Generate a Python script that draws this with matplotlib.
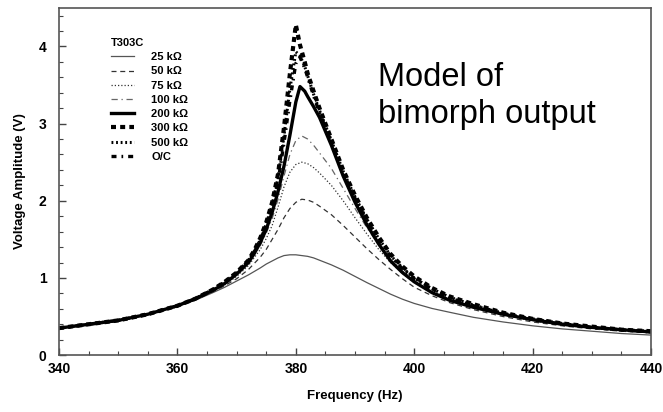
"""Model of bimorph output: voltage amplitude vs frequency for several loads."""

import matplotlib
matplotlib.use("Agg")
import matplotlib.pyplot as plt
from matplotlib.ticker import MultipleLocator

plt.rcParams['font.family'] = ['Liberation Sans', 'DejaVu Sans']

# frequencies (Hz) shared by the low-load traces
freq = [340, 345, 350, 355, 360, 363, 366, 368, 370, 372, 374, 375, 376, 377,
        378, 379, 380, 381, 382, 383, 384, 386, 388, 390, 392, 394, 396, 398,
        400, 403, 406, 410, 415, 420, 425, 430, 435, 440]

v_25k = [0.35, 0.40, 0.45, 0.53, 0.64, 0.71, 0.81, 0.88, 0.96, 1.04, 1.13, 1.18,
         1.22, 1.26, 1.29, 1.30, 1.30, 1.29, 1.28, 1.26, 1.23, 1.17, 1.10, 1.02,
         0.94, 0.865, 0.79, 0.725, 0.67, 0.605, 0.555, 0.49, 0.43, 0.38, 0.34,
         0.31, 0.28, 0.26]
v_50k = [0.35, 0.40, 0.45, 0.53, 0.64, 0.72, 0.82, 0.90, 0.99, 1.11, 1.27, 1.37,
         1.50, 1.63, 1.78, 1.90, 1.98, 2.02, 2.01, 1.98, 1.93, 1.82, 1.68, 1.53,
         1.38, 1.24, 1.11, 0.99, 0.88, 0.77, 0.68, 0.59, 0.50, 0.43, 0.38, 0.34,
         0.31, 0.29]
v_75k = [0.35, 0.40, 0.45, 0.53, 0.64, 0.72, 0.83, 0.91, 1.02, 1.16, 1.37, 1.51,
         1.68, 1.92, 2.18, 2.37, 2.47, 2.50, 2.48, 2.43, 2.36, 2.20, 2.00, 1.78,
         1.57, 1.37, 1.20, 1.06, 0.94, 0.81, 0.71, 0.615, 0.52, 0.45, 0.39, 0.35,
         0.32, 0.29]
v_100k = [0.35, 0.40, 0.45, 0.53, 0.64, 0.72, 0.84, 0.93, 1.04, 1.19, 1.42, 1.58,
          1.77, 2.02, 2.32, 2.60, 2.78, 2.84, 2.80, 2.72, 2.62, 2.42, 2.16, 1.90,
          1.65, 1.43, 1.24, 1.09, 0.97, 0.83, 0.72, 0.63, 0.53, 0.45, 0.40, 0.35,
          0.32, 0.30]

# heavier loads, sampled a little closer round the peak
freq_hi = [340, 345, 350, 355, 360, 363, 366, 368, 370, 372, 373, 374, 375, 376,
           377, 378, 379, 380, 380.7, 381.5, 382, 383, 384, 386, 388, 390, 392,
           394, 396, 398, 400, 403, 406, 410, 415, 420, 425, 430, 435, 440]

v_200k = [0.35, 0.40, 0.45, 0.53, 0.64, 0.73, 0.84, 0.93, 1.05, 1.20, 1.32, 1.46,
          1.63, 1.85, 2.12, 2.45, 2.85, 3.28, 3.48, 3.42, 3.35, 3.22, 3.08, 2.72,
          2.32, 1.98, 1.69, 1.44, 1.22, 1.07, 0.95, 0.81, 0.71, 0.62, 0.53, 0.46,
          0.40, 0.36, 0.33, 0.30]
v_300k = [0.35, 0.40, 0.45, 0.53, 0.64, 0.73, 0.85, 0.95, 1.07, 1.23, 1.36, 1.52,
          1.72, 1.98, 2.35, 2.95, 3.65, 4.28, 4.02, 3.80, 3.65, 3.42, 3.20, 2.80,
          2.40, 2.07, 1.78, 1.53, 1.31, 1.15, 1.02, 0.87, 0.76, 0.66, 0.55, 0.47,
          0.41, 0.37, 0.33, 0.31]
v_500k = [0.35, 0.40, 0.45, 0.53, 0.64, 0.73, 0.85, 0.95, 1.07, 1.23, 1.35, 1.50,
          1.70, 1.95, 2.30, 2.85, 3.45, 3.93, 3.88, 3.74, 3.62, 3.38, 3.17, 2.78,
          2.38, 2.05, 1.76, 1.51, 1.29, 1.13, 1.00, 0.86, 0.75, 0.65, 0.54, 0.47,
          0.41, 0.36, 0.33, 0.31]
v_oc = [0.35, 0.40, 0.45, 0.53, 0.64, 0.73, 0.85, 0.94, 1.06, 1.22, 1.34, 1.49,
        1.68, 1.92, 2.25, 2.75, 3.30, 3.78, 3.86, 3.72, 3.60, 3.36, 3.14, 2.76,
        2.36, 2.03, 1.74, 1.49, 1.28, 1.12, 0.99, 0.85, 0.74, 0.64, 0.54, 0.46,
        0.40, 0.36, 0.33, 0.30]

labels = ['25 k\u03a9', '50 k\u03a9', '75 k\u03a9', '100 k\u03a9',
          '200 k\u03a9', '300 k\u03a9', '500 k\u03a9', 'O/C']

fig = plt.figure(figsize=(6.63, 4.12), dpi=100)
ax = fig.add_axes([0.089, 0.138, 0.893, 0.843])

ax.plot(freq, v_25k, color='#555555', lw=0.9, ls='-', label=labels[0])
ax.plot(freq, v_50k, color='#333333', lw=0.9, ls=(0, (4, 3)), label=labels[1])
ax.plot(freq, v_75k, color='#333333', lw=0.9, ls=(0, (1, 1.6)), label=labels[2])
ax.plot(freq, v_100k, color='#666666', lw=0.9, ls=(0, (5, 3, 1, 3)), label=labels[3])
ax.plot(freq_hi, v_200k, color='black', lw=2.4, ls='-', label=labels[4])
ax.plot(freq_hi, v_300k, color='black', lw=3.0, ls=(0, (1.2, 1.0)), label=labels[5])
ax.plot(freq_hi, v_500k, color='black', lw=2.2, ls=(0, (0.6, 0.9)), label=labels[6])
ax.plot(freq_hi, v_oc, color='black', lw=2.4, ls=(0, (1.5, 1.5, 0.5, 1.5)), label=labels[7])

ax.set_xlim(340, 440)
ax.set_ylim(0, 4.5)
ax.xaxis.set_major_locator(MultipleLocator(20))
ax.xaxis.set_minor_locator(MultipleLocator(5))
ax.yaxis.set_major_locator(MultipleLocator(1))
ax.yaxis.set_minor_locator(MultipleLocator(0.2))
ax.tick_params(which='both', direction='in', top=False, right=False,
               colors='#444444', labelcolor='black')
ax.tick_params(which='major', length=5, width=1.0, labelsize=10)
ax.tick_params(axis='x', which='major', pad=5)
ax.tick_params(axis='y', which='major', pad=9)
ax.tick_params(which='minor', length=3, width=0.8)
for lab in ax.get_xticklabels() + ax.get_yticklabels():
    lab.set_fontweight('bold')
for sp in ax.spines.values():
    sp.set_color('#555555')
    sp.set_linewidth(1.2)

ax.set_xlabel('Frequency (Hz)', fontsize=9.5, fontweight='bold', labelpad=10)
ax.set_ylabel('Voltage Amplitude (V)', fontsize=9.5, fontweight='bold', labelpad=9)

leg = ax.legend(loc='upper left', bbox_to_anchor=(0.088, 0.913), frameon=False,
                title='T303C', alignment='left', fontsize=8, handlelength=2.1,
                handletextpad=1.5, labelspacing=0.38, borderaxespad=0,
                borderpad=0)
leg.get_title().set_fontsize(8)
leg.get_title().set_fontweight('bold')
for t in leg.get_texts():
    t.set_fontweight('bold')

ax.text(0.539, 0.845, 'Model of\nbimorph output', transform=ax.transAxes,
        fontsize=23.5, va='top', ha='left', linespacing=1.26,
        family=['Liberation Sans', 'DejaVu Sans'])

fig.savefig('out.png', dpi=100)
